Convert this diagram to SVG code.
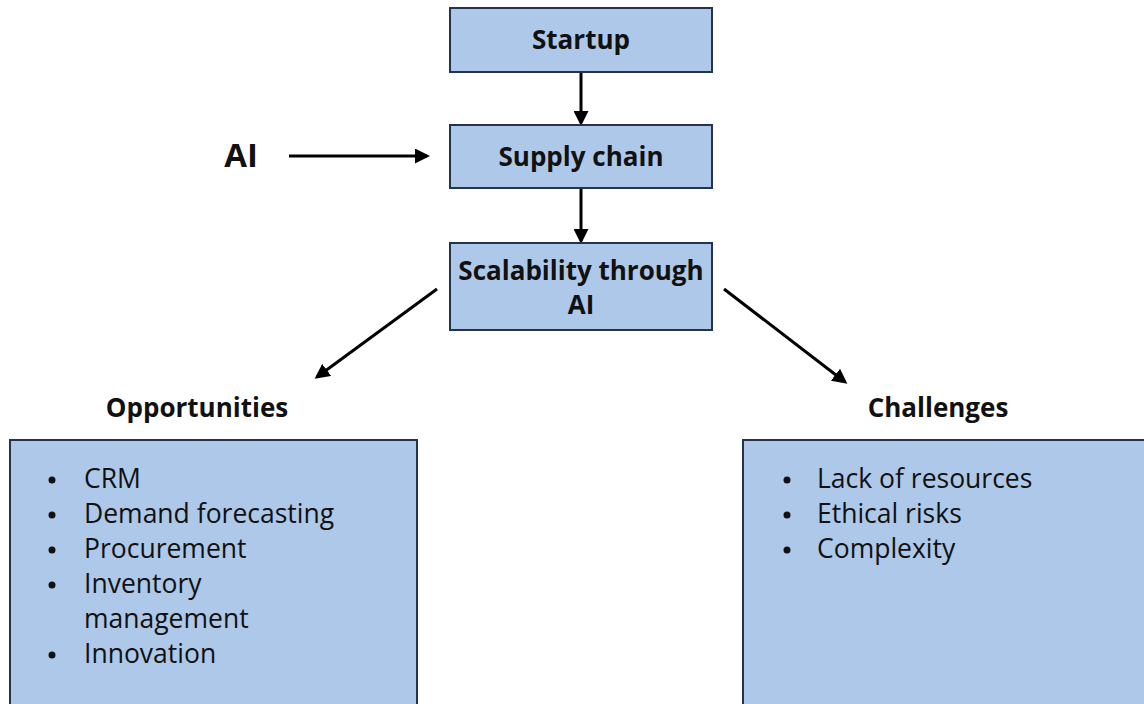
<svg xmlns="http://www.w3.org/2000/svg" width="1144" height="704" viewBox="0 0 1144 704">
<style>
.box{fill:#adc8e8;stroke:#22344f;stroke-width:2}
.t{font-family:"Open Sans","Liberation Sans",sans-serif;font-weight:bold;fill:#111;text-anchor:middle;font-size:26px}
.li{font-family:"Open Sans","Liberation Sans",sans-serif;font-size:26.5px;fill:#111}
.b{fill:#111}
.c{stroke:#000;stroke-width:3;fill:none;marker-end:url(#ah)}
</style>
<defs>
<marker id="ah" markerWidth="5" markerHeight="5" refX="4" refY="2.5" orient="auto" markerUnits="strokeWidth">
<path d="M0,0 L5,2.5 L0,5 Z" fill="#000"/>
</marker>
</defs>
<rect width="1144" height="704" fill="#fff"/>
<g id="connectors">
<line class="c" x1="581" y1="72" x2="581" y2="123"/>
<line class="c" x1="581" y1="188" x2="581" y2="241"/>
<line class="c" x1="289" y1="156" x2="427" y2="156"/>
<line class="c" x1="437" y1="289" x2="317" y2="377"/>
<line class="c" x1="724" y1="289" x2="845" y2="382"/>
</g>
<g id="startup">
<rect class="box" x="450" y="8" width="262" height="64"/>
<text class="t" x="581" y="49">Startup</text>
</g>
<g id="supply">
<rect class="box" x="450" y="125" width="262" height="63"/>
<text class="t" x="581" y="166">Supply chain</text>
</g>
<g id="scalability">
<rect class="box" x="450" y="243" width="262" height="87"/>
<text class="t" x="581" y="280">Scalability through</text>
<text class="t" x="581" y="314">AI</text>
</g>
<g id="ai">
<text class="t" x="241" y="167" style="font-size:33px">AI</text>
</g>
<g id="opportunities">
<text class="t" x="197" y="417">Opportunities</text>
<rect class="box" x="10" y="440" width="407" height="280"/>
<circle class="b" cx="52" cy="480" r="3.5"/><text class="li" x="84" y="488">CRM</text>
<circle class="b" cx="52" cy="515" r="3.5"/><text class="li" x="84" y="523">Demand forecasting</text>
<circle class="b" cx="52" cy="550" r="3.5"/><text class="li" x="84" y="558">Procurement</text>
<circle class="b" cx="52" cy="585" r="3.5"/><text class="li" x="84" y="593">Inventory</text>
<text class="li" x="84" y="628">management</text>
<circle class="b" cx="52" cy="655" r="3.5"/><text class="li" x="84" y="663">Innovation</text>
</g>
<g id="challenges">
<text class="t" x="938" y="417">Challenges</text>
<rect class="box" x="743" y="440" width="420" height="280"/>
<circle class="b" cx="787" cy="480" r="3.5"/><text class="li" x="817" y="488">Lack of resources</text>
<circle class="b" cx="787" cy="515" r="3.5"/><text class="li" x="817" y="523">Ethical risks</text>
<circle class="b" cx="787" cy="550" r="3.5"/><text class="li" x="817" y="558">Complexity</text>
</g>
</svg>
